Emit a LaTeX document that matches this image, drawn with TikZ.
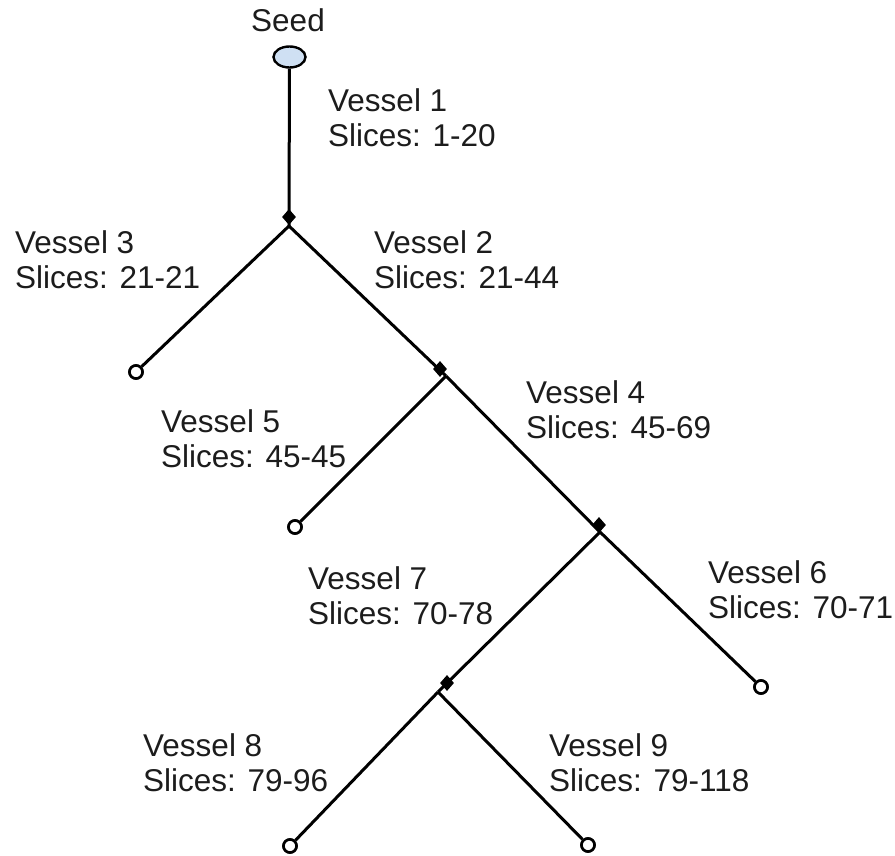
\documentclass[tikz,border=0pt]{standalone}
\usepackage{fontspec}
\setmainfont{Liberation Sans}
\usetikzlibrary{shapes.geometric}
\definecolor{txt}{HTML}{1C1C1C}
\definecolor{seedfill}{HTML}{CFE0F3}
\begin{document}
\begin{tikzpicture}[x=1pt,y=-1pt,
  vessel/.style={line width=3pt,black},
  endpt/.style={circle,draw=black,line width=2.6pt,fill=white,minimum size=13pt,inner sep=0pt},
  junc/.style={diamond,fill=black,minimum width=14pt,minimum height=16pt,inner sep=0pt},
  lbl/.style={anchor=west,align=left,inner sep=0pt,text=txt,font=\fontsize{31.5}{35}\selectfont}]
\useasboundingbox (0,0) rectangle (895,856);
% seed
\node[ellipse,draw=black,line width=2.4pt,fill=seedfill,minimum width=32pt,minimum height=21pt,inner sep=0pt] (seed) at (289.5,57) {};
\node[text=txt,font=\fontsize{31.5}{35}\selectfont,inner sep=0pt,anchor=base] (seedlbl) at (288,32) {Seed};
% junctions
\coordinate (j1) at (289,226);
\coordinate (j2) at (446,376);
\coordinate (j3) at (600,532);
\coordinate (j4) at (438,692);
% ends
\node[endpt] (e3) at (136,372) {};
\node[endpt] (e5) at (295,527) {};
\node[endpt] (e6) at (761,687) {};
\node[endpt] (e8) at (290,846) {};
\node[endpt] (e9) at (588,845) {};
% edges
\draw[vessel] (seed) -- (j1);
\draw[vessel] (j1) -- (e3);
\draw[vessel] (j1) -- (j2);
\draw[vessel] (j2) -- (e5);
\draw[vessel] (j2) -- (j3);
\draw[vessel] (j3) -- (e6);
\draw[vessel] (j3) -- (j4);
\draw[vessel] (j4) -- (e8);
\draw[vessel] (j4) -- (e9);
% redraw end circles on top
\node[endpt] at (e3) {};
\node[endpt] at (e5) {};
\node[endpt] at (e6) {};
\node[endpt] at (e8) {};
\node[endpt] at (e9) {};
% diamonds
\node[junc] (d1) at (289,217) {};
\node[junc] (d2) at (440,369) {};
\node[junc] (d3) at (599,525) {};
\node[junc] (d4) at (447,683) {};
% labels
\node[lbl] (l1) at (328,118) {Vessel 1\\Slices: 1-20};
\node[lbl] (l3) at (15,260) {Vessel 3\\Slices: 21-21};
\node[lbl] (l2) at (374,260) {Vessel 2\\Slices: 21-44};
\node[lbl] (l5) at (161,439) {Vessel 5\\Slices: 45-45};
\node[lbl] (l4) at (526,410) {Vessel 4\\Slices: 45-69};
\node[lbl] (l7) at (308,596) {Vessel 7\\Slices: 70-78};
\node[lbl] (l6) at (708,590) {Vessel 6\\Slices: 70-71};
\node[lbl] (l8) at (143,763) {Vessel 8\\Slices: 79-96};
\node[lbl] (l9) at (549,763) {Vessel 9\\Slices: 79-118};
\end{tikzpicture}
\end{document}
